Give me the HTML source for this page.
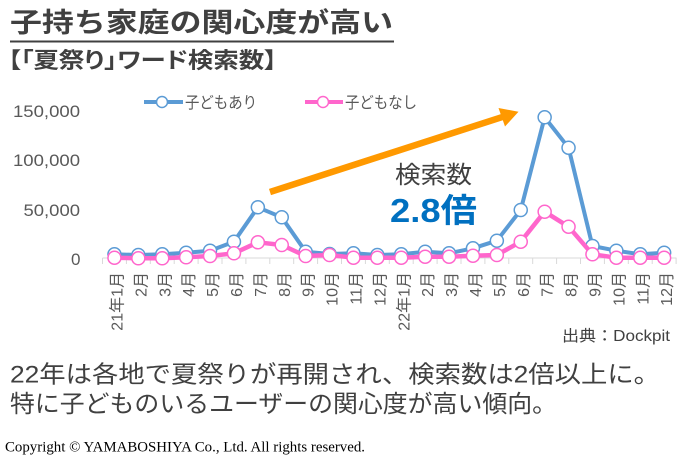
<!DOCTYPE html>
<html><head><meta charset="utf-8"><style>
html,body{margin:0;padding:0;background:#fff;}
svg{display:block;}
</style></head><body>
<svg width="685" height="458" viewBox="0 0 685 458" xmlns="http://www.w3.org/2000/svg" font-family="'Liberation Sans','Noto Sans CJK JP',sans-serif">
<rect width="685" height="458" fill="#fff"/>
<!-- Title -->
<text x="10" y="32" font-size="27" font-weight="bold" fill="#404040" textLength="383" lengthAdjust="spacingAndGlyphs">子持ち家庭の関心度が高い</text>
<rect x="10" y="40.5" width="384" height="2" fill="#404040"/>
<text x="8" y="68" font-size="22" font-weight="bold" fill="#404040" style="font-feature-settings:'palt'" textLength="269" lengthAdjust="spacingAndGlyphs">【「夏祭り」ワード検索数】</text>

<!-- Legend -->
<line x1="144" y1="102" x2="183" y2="102" stroke="#5b9bd5" stroke-width="4"/>
<circle cx="162" cy="102" r="5.5" fill="#fff" stroke="#5b9bd5" stroke-width="1.5"/>
<text x="185" y="108" font-size="16" fill="#595959" textLength="72" lengthAdjust="spacingAndGlyphs">子どもあり</text>
<line x1="305" y1="102" x2="343" y2="102" stroke="#ff66cc" stroke-width="4"/>
<circle cx="323" cy="102" r="5.5" fill="#fff" stroke="#ff66cc" stroke-width="1.5"/>
<text x="345" y="108" font-size="16" fill="#595959" textLength="72" lengthAdjust="spacingAndGlyphs">子どもなし</text>

<!-- Y labels -->
<g font-size="17" fill="#595959">
<text x="13" y="117" textLength="67" lengthAdjust="spacingAndGlyphs">150,000</text>
<text x="13" y="166" textLength="67" lengthAdjust="spacingAndGlyphs">100,000</text>
<text x="23.5" y="216" textLength="56.5" lengthAdjust="spacingAndGlyphs">50,000</text>
<text x="71" y="265" textLength="9.5" lengthAdjust="spacingAndGlyphs">0</text>
</g>

<!-- Axis -->
<line x1="102.5" y1="258" x2="676.5" y2="258" stroke="#d9d9d9" stroke-width="1"/>
<g stroke="#d9d9d9" stroke-width="1">
<line x1="102.5" y1="258" x2="102.5" y2="264"/><line x1="126.4" y1="258" x2="126.4" y2="264"/><line x1="150.3" y1="258" x2="150.3" y2="264"/><line x1="174.2" y1="258" x2="174.2" y2="264"/><line x1="198.1" y1="258" x2="198.1" y2="264"/><line x1="222" y1="258" x2="222" y2="264"/><line x1="245.9" y1="258" x2="245.9" y2="264"/><line x1="269.8" y1="258" x2="269.8" y2="264"/><line x1="293.7" y1="258" x2="293.7" y2="264"/><line x1="317.6" y1="258" x2="317.6" y2="264"/><line x1="341.5" y1="258" x2="341.5" y2="264"/><line x1="365.4" y1="258" x2="365.4" y2="264"/><line x1="389.3" y1="258" x2="389.3" y2="264"/><line x1="413.2" y1="258" x2="413.2" y2="264"/><line x1="437.1" y1="258" x2="437.1" y2="264"/><line x1="461" y1="258" x2="461" y2="264"/><line x1="484.9" y1="258" x2="484.9" y2="264"/><line x1="508.8" y1="258" x2="508.8" y2="264"/><line x1="532.7" y1="258" x2="532.7" y2="264"/><line x1="556.6" y1="258" x2="556.6" y2="264"/><line x1="580.5" y1="258" x2="580.5" y2="264"/><line x1="604.4" y1="258" x2="604.4" y2="264"/><line x1="628.3" y1="258" x2="628.3" y2="264"/><line x1="652.2" y1="258" x2="652.2" y2="264"/><line x1="676.1" y1="258" x2="676.1" y2="264"/>
</g>

<!-- X labels -->
<g font-size="16" fill="#595959" text-anchor="end">
<text transform="translate(114.45,272) rotate(-90)" y="8">21年1月</text>
<text transform="translate(138.35,272) rotate(-90)" y="8">2月</text>
<text transform="translate(162.25,272) rotate(-90)" y="8">3月</text>
<text transform="translate(186.15,272) rotate(-90)" y="8">4月</text>
<text transform="translate(210.05,272) rotate(-90)" y="8">5月</text>
<text transform="translate(233.95,272) rotate(-90)" y="8">6月</text>
<text transform="translate(257.85,272) rotate(-90)" y="8">7月</text>
<text transform="translate(281.75,272) rotate(-90)" y="8">8月</text>
<text transform="translate(305.65,272) rotate(-90)" y="8">9月</text>
<text transform="translate(329.55,272) rotate(-90)" y="8">10月</text>
<text transform="translate(353.45,272) rotate(-90)" y="8">11月</text>
<text transform="translate(377.35,272) rotate(-90)" y="8">12月</text>
<text transform="translate(401.25,272) rotate(-90)" y="8">22年1月</text>
<text transform="translate(425.15,272) rotate(-90)" y="8">2月</text>
<text transform="translate(449.05,272) rotate(-90)" y="8">3月</text>
<text transform="translate(472.95,272) rotate(-90)" y="8">4月</text>
<text transform="translate(496.85,272) rotate(-90)" y="8">5月</text>
<text transform="translate(520.75,272) rotate(-90)" y="8">6月</text>
<text transform="translate(544.65,272) rotate(-90)" y="8">7月</text>
<text transform="translate(568.55,272) rotate(-90)" y="8">8月</text>
<text transform="translate(592.45,272) rotate(-90)" y="8">9月</text>
<text transform="translate(616.35,272) rotate(-90)" y="8">10月</text>
<text transform="translate(640.25,272) rotate(-90)" y="8">11月</text>
<text transform="translate(664.15,272) rotate(-90)" y="8">12月</text>
</g>

<!-- Blue series -->
<polyline fill="none" stroke="#5b9bd5" stroke-width="4" stroke-linejoin="round" points="114.45,254.3 138.35,255 162.25,254.3 186.15,252.7 210.05,250.7 233.95,241.7 257.85,207.3 281.75,217.3 305.65,251.7 329.55,254 353.45,253.3 377.35,255 401.25,254.3 425.15,251.7 449.05,253.3 472.95,248.3 496.85,240.7 520.75,210 544.65,117.3 568.55,147.7 592.45,246 616.35,250.7 640.25,254.3 664.15,252.7"/>
<g fill="#fff" stroke="#5b9bd5" stroke-width="1.5">
<circle cx="114.45" cy="254.3" r="6.5"/><circle cx="138.35" cy="255" r="6.5"/><circle cx="162.25" cy="254.3" r="6.5"/><circle cx="186.15" cy="252.7" r="6.5"/><circle cx="210.05" cy="250.7" r="6.5"/><circle cx="233.95" cy="241.7" r="6.5"/><circle cx="257.85" cy="207.3" r="6.5"/><circle cx="281.75" cy="217.3" r="6.5"/><circle cx="305.65" cy="251.7" r="6.5"/><circle cx="329.55" cy="254" r="6.5"/><circle cx="353.45" cy="253.3" r="6.5"/><circle cx="377.35" cy="255" r="6.5"/><circle cx="401.25" cy="254.3" r="6.5"/><circle cx="425.15" cy="251.7" r="6.5"/><circle cx="449.05" cy="253.3" r="6.5"/><circle cx="472.95" cy="248.3" r="6.5"/><circle cx="496.85" cy="240.7" r="6.5"/><circle cx="520.75" cy="210" r="6.5"/><circle cx="544.65" cy="117.3" r="6.5"/><circle cx="568.55" cy="147.7" r="6.5"/><circle cx="592.45" cy="246" r="6.5"/><circle cx="616.35" cy="250.7" r="6.5"/><circle cx="640.25" cy="254.3" r="6.5"/><circle cx="664.15" cy="252.7" r="6.5"/>
</g>

<!-- Pink series -->
<polyline fill="none" stroke="#ff66cc" stroke-width="4.5" stroke-linejoin="round" points="114.45,257.7 138.35,258.3 162.25,258.3 186.15,257.3 210.05,256 233.95,253.3 257.85,242.3 281.75,245 305.65,256 329.55,255 353.45,257.7 377.35,257.7 401.25,257.7 425.15,256.7 449.05,256.7 472.95,255.7 496.85,255 520.75,241.7 544.65,211.7 568.55,226.7 592.45,254.3 616.35,257.7 640.25,257.7 664.15,257.7"/>
<g fill="#fff" stroke="#ff66cc" stroke-width="1.5">
<circle cx="114.45" cy="257.7" r="6.5"/><circle cx="138.35" cy="258.3" r="6.5"/><circle cx="162.25" cy="258.3" r="6.5"/><circle cx="186.15" cy="257.3" r="6.5"/><circle cx="210.05" cy="256" r="6.5"/><circle cx="233.95" cy="253.3" r="6.5"/><circle cx="257.85" cy="242.3" r="6.5"/><circle cx="281.75" cy="245" r="6.5"/><circle cx="305.65" cy="256" r="6.5"/><circle cx="329.55" cy="255" r="6.5"/><circle cx="353.45" cy="257.7" r="6.5"/><circle cx="377.35" cy="257.7" r="6.5"/><circle cx="401.25" cy="257.7" r="6.5"/><circle cx="425.15" cy="256.7" r="6.5"/><circle cx="449.05" cy="256.7" r="6.5"/><circle cx="472.95" cy="255.7" r="6.5"/><circle cx="496.85" cy="255" r="6.5"/><circle cx="520.75" cy="241.7" r="6.5"/><circle cx="544.65" cy="211.7" r="6.5"/><circle cx="568.55" cy="226.7" r="6.5"/><circle cx="592.45" cy="254.3" r="6.5"/><circle cx="616.35" cy="257.7" r="6.5"/><circle cx="640.25" cy="257.7" r="6.5"/><circle cx="664.15" cy="257.7" r="6.5"/>
</g>

<!-- Arrow -->
<line x1="270" y1="192" x2="503" y2="116.8" stroke="#ff9900" stroke-width="6.5"/>
<polygon points="498.5,108 518.5,111.8 505,126.5" fill="#ff9900"/>

<!-- Annotation -->
<text x="395" y="183" font-size="24" fill="#404040" textLength="77" lengthAdjust="spacingAndGlyphs">検索数</text>
<text x="390" y="222" font-size="33" font-weight="bold" fill="#0070c0" textLength="87" lengthAdjust="spacingAndGlyphs">2.8倍</text>

<!-- Source -->
<text x="562" y="341" font-size="15.5" fill="#404040" textLength="108" lengthAdjust="spacingAndGlyphs">出典：Dockpit</text>

<!-- Bottom text -->
<text x="10" y="382.5" font-size="24" fill="#404040" textLength="650" lengthAdjust="spacingAndGlyphs">22年は各地で夏祭りが再開され、検索数は2倍以上に。</text>
<text x="10" y="412" font-size="24" fill="#404040" textLength="547" lengthAdjust="spacingAndGlyphs">特に子どものいるユーザーの関心度が高い傾向。</text>

<text x="5" y="451.7" font-family="'Liberation Serif',serif" font-size="14.7" fill="#000" textLength="360" lengthAdjust="spacingAndGlyphs">Copyright © YAMABOSHIYA Co., Ltd. All rights reserved.</text>
</svg>
</body></html>
